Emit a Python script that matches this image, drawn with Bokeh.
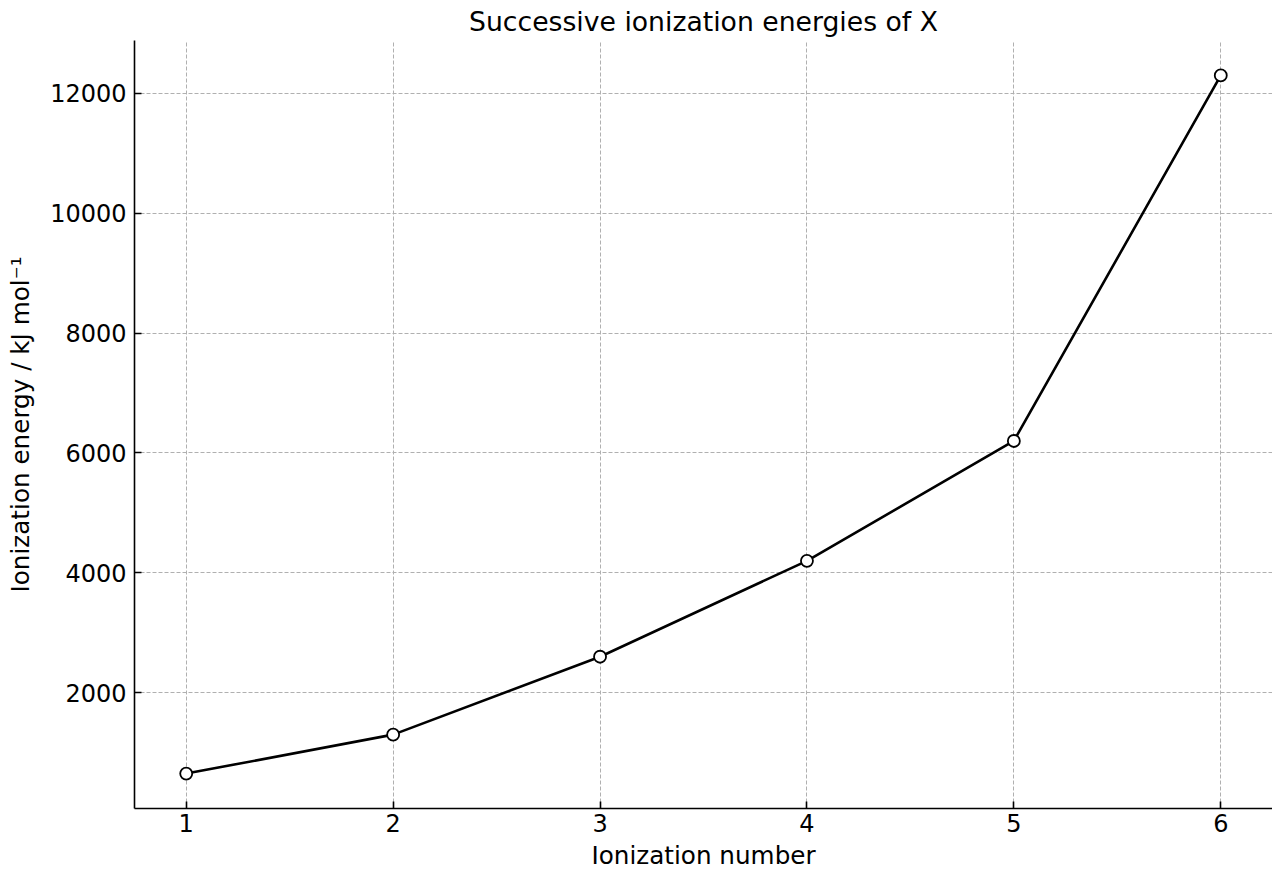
from bokeh.plotting import figure
from bokeh.models import ColumnDataSource, FixedTicker, Range1d
from bokeh.embed import file_html
from bokeh.resources import INLINE

# Successive ionization energies
ionization_number = [1, 2, 3, 4, 5, 6]
energy_kj = [650, 1300, 2600, 4200, 6200, 12300]

y_ticks = [2000, 4000, 6000, 8000, 10000, 12000]

FONT = "DejaVu Sans"

source = ColumnDataSource(data=dict(x=ionization_number, y=energy_kj))

pad_y = (max(energy_kj) - min(energy_kj)) * 0.05
p = figure(width=1272, height=872, output_backend="svg", toolbar_location=None,
           x_range=Range1d(0.75, 6.25),
           y_range=Range1d(min(energy_kj) - pad_y, max(energy_kj) + pad_y),
           title="Successive ionization energies of X")

p.min_border_left = 134
p.min_border_right = 0
p.min_border_top = 40
p.min_border_bottom = 61

p.title.align = "center"
p.title.text_font = FONT
p.title.text_font_size = "20pt"
p.title.text_font_style = "normal"
p.title.text_color = "black"
p.title.standoff = 7

p.outline_line_color = None
p.background_fill_color = "white"
p.border_fill_color = "white"

# grid
for g in (p.xgrid, p.ygrid):
    g.grid_line_color = "#b0b0b0"
    g.grid_line_dash = "4 2"
    g.grid_line_width = 1
p.ygrid.ticker = FixedTicker(ticks=y_ticks)
p.xgrid.ticker = FixedTicker(ticks=ionization_number)

p.xaxis.ticker = FixedTicker(ticks=ionization_number)
p.yaxis.ticker = FixedTicker(ticks=y_ticks)

for ax in (p.xaxis[0], p.yaxis[0]):
    ax.axis_line_color = "black"
    ax.axis_line_width = 1.6
    ax.major_tick_in = 7
    ax.major_tick_out = 0
    ax.major_tick_line_width = 1.6
    ax.minor_tick_in = 0
    ax.minor_tick_out = 0
    ax.major_label_text_font = FONT
    ax.major_label_text_font_size = "18pt"
    ax.major_label_text_color = "black"
    ax.axis_label_text_font = FONT
    ax.axis_label_text_font_size = "18.5pt"
    ax.axis_label_text_font_style = "normal"
    ax.axis_label_text_color = "black"

p.xaxis.axis_label = "Ionization number"
p.yaxis.axis_label = "Ionization energy / kJ mol\u207b\u00b9"
p.xaxis.major_label_standoff = 5
p.yaxis.major_label_standoff = 8
p.xaxis.axis_label_standoff = 6
p.yaxis.axis_label_standoff = 12

p.line('x', 'y', source=source, line_color="black", line_width=2.6)
p.scatter('x', 'y', source=source, size=12, marker="circle",
          fill_color="white", line_color="black", line_width=1.8)

open("out.html", "w").write(file_html(p, INLINE))
